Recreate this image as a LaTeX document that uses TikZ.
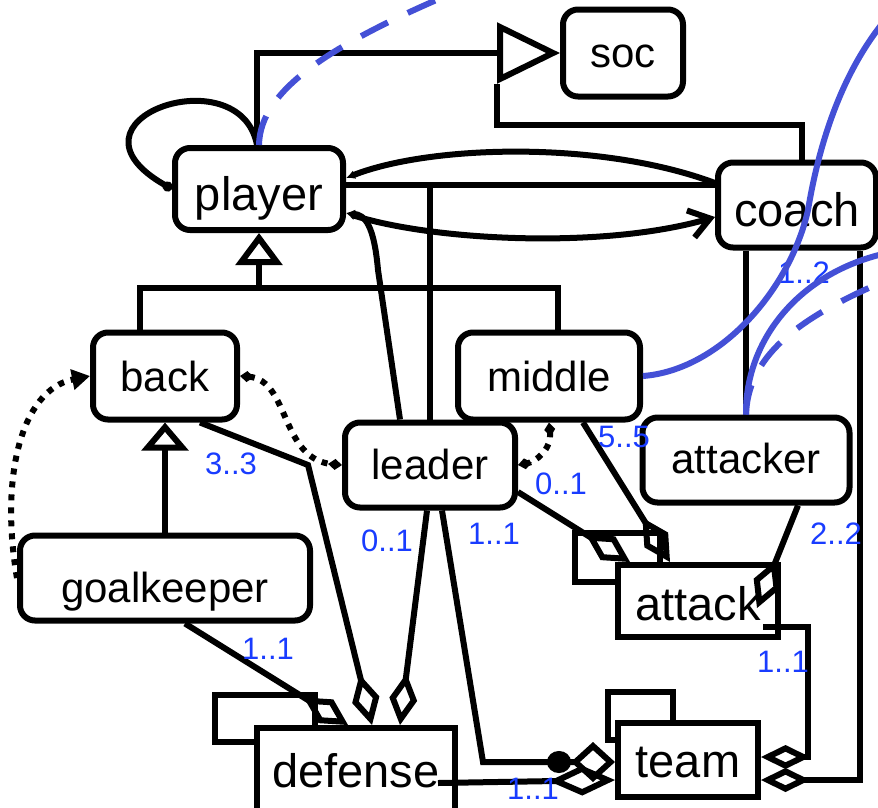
\documentclass[tikz,border=0pt]{standalone}
\usepackage{fontspec}
\setmainfont{Liberation Sans}
\usetikzlibrary{arrows.meta,positioning}
\definecolor{multblue}{RGB}{25,60,255}
\definecolor{linkblue}{RGB}{68,80,214}
\tikzset{
    cls/.style={draw, line width=6pt, rounded corners=15pt, fill=white, inner sep=0pt, text height=30pt, text depth=0pt, font=\fontsize{42}{48}\selectfont},
    coll/.style={draw, line width=6pt, fill=white, inner sep=0pt, text height=34pt, text depth=0pt, font=\fontsize{47}{52}\selectfont},
    big/.style={font=\fontsize{47}{52}\selectfont},
    tabbox/.style={draw, line width=6pt, fill=white, inner sep=0pt},
    assoc/.style={draw, line width=6pt},
    gen/.style={assoc, -{Triangle[open, #1]}},
    agg/.style={assoc, -{Diamond[open, length=52pt, width=28pt]}},
    dep/.style={draw, line width=6pt, dash pattern=on 6pt off 7pt},
    link/.style={draw=linkblue, line width=6pt},
    mult/.style={text=multblue, inner sep=0pt, font=\fontsize{31}{36}\selectfont}
}

\begin{document}
\begin{tikzpicture}[x=1pt, y=-1pt]
    \useasboundingbox (0,0) rectangle (878,807);
    % Nodes
    \node[tabbox, minimum width=100pt, minimum height=47pt] (deftab) at (265,718) {};
    \node[tabbox, minimum width=85pt, minimum height=49pt] (atttab) at (617,557) {};
    \node[tabbox, minimum width=65pt, minimum height=48pt] (teamtab) at (640,716) {};
    \node[cls, big, minimum width=168pt, minimum height=82pt, text height=42pt] (player) at (259,189) {player};
    \node[cls, minimum width=120pt, minimum height=87pt, text height=29pt] (soc) at (623,53) {soc};
    \node[cls, big, minimum width=158pt, minimum height=85pt, text height=43pt] (coach) at (797,205) {coach};
    \node[cls, minimum width=144pt, minimum height=87pt, text height=31pt] (back) at (165,376) {back};
    \node[cls, minimum width=182pt, minimum height=87pt, text height=31pt] (middle) at (549,376) {middle};
    \node[cls, minimum width=170pt, minimum height=85pt, text height=29pt] (leader) at (430,465) {leader};
    \node[cls, minimum width=207pt, minimum height=85pt, text height=27pt] (attacker) at (746,460) {attacker};
    \node[cls, minimum width=290pt, minimum height=85pt, text height=49pt] (goalkeeper) at (165,578) {goalkeeper};
    \node[coll, minimum width=198pt, minimum height=84pt] (defense) at (356,770) {defense};
    \node[coll, minimum width=160pt, minimum height=72pt, text height=38pt] (attack) at (698,601) {attack};
    \node[coll, minimum width=140pt, minimum height=74pt] (team) at (688,760) {team};

    % generalisations
    \coordinate (socbase) at ([xshift=-63pt, yshift=-31pt]soc.west);
    \draw[gen={length=63pt, width=60pt}] ([xshift=-2pt]player.north) |- (soc.west);
    \draw[assoc] ([xshift=5pt]coach.north) |- ([yshift=-41pt]socbase) -- (socbase);
    \draw[gen={length=32pt, width=46pt}] ([xshift=-25pt]back.north) |- ([yshift=-55pt]player.south) -- (player.south);
    \draw[assoc] ([xshift=9pt]middle.north) |- ([yshift=-55pt]player.south);
    \draw[gen={length=28pt, width=46pt}] (goalkeeper.north) -- (back.south);

    % player and coach
    \coordinate (pc) at ([yshift=4pt]player.east);
    \draw[assoc, {Latex[length=9pt, width=9pt]}-] ([yshift=11pt]player.east) .. controls (430,145) and (600,140) .. ([yshift=22pt]coach.west);
    \draw[assoc, {Latex[length=9pt, width=9pt]}-{Straight Barb[length=20pt, width=28pt]}] ([yshift=-24pt]player.east) .. controls (430,240) and (600,250) .. ([yshift=-12pt]coach.west);
    \draw[assoc] (pc) -- ([yshift=20pt]coach.west);
    \draw[assoc] (leader.north) -- (leader.north |- pc);
    \draw[assoc, -{Latex[length=9pt, width=9pt]}] ([xshift=-30pt]leader.north) -- (378,270) .. controls (374,225) and (365,215) .. ([yshift=-24pt]player.east);
    \draw[assoc, -{Circle[length=10pt]}] ([xshift=-2pt]player.north) .. controls (240,55) and (50,120) .. (player.west);
    \draw[assoc] (coach.south -| attacker.north) -- (attacker.north);

    % dependencies
    \draw[dep, {Diamond[length=14pt, width=11pt]}-{Diamond[length=14pt, width=11pt]}] (back.east) .. controls (290,380) and (280,460) .. (leader.west);
    \draw[dep, {Diamond[length=14pt, width=11pt]}-{Diamond[length=14pt, width=11pt]}] (middle.south) .. controls (552,450) and (535,462) .. (leader.east);
    \draw[dep, -{Triangle[length=18pt, width=20pt]}] (goalkeeper.west) .. controls (0,480) and (20,390) .. (back.west);

    % aggregations
    \draw[agg] ([xshift=35pt]back.south) -- (308,465) -- ([xshift=16pt]defense.north);
    \draw[agg] ([xshift=-3pt]leader.south) -- ([xshift=44pt]defense.north);
    \draw[agg] ([xshift=20pt]goalkeeper.south) -- ([xshift=-8pt]defense.north);
    \draw[agg] ([yshift=-27pt]leader.east) -- ([xshift=-68pt]attack.north);
    \draw[agg] ([xshift=34pt]middle.south) -- ([xshift=-28pt]attack.north);
    \draw[agg] ([xshift=52pt]attacker.south) -- ([xshift=59pt, yshift=-7pt]attack.center);
    \draw[assoc, -{Circle[length=24pt, width=22pt] Diamond[open, length=44pt, width=40pt]}] ([xshift=12pt]leader.south) -- (483,762) -- ([yshift=-2pt]team.west);
    \draw[assoc, -{Diamond[open, length=66pt, width=30pt]}] ([xshift=-20pt, yshift=-13pt]defense.east) -- ([yshift=-20pt]team.west);
    \draw[assoc, -{Diamond[open, length=49pt, width=24pt]}] ([xshift=-18pt, yshift=-26pt]attack.east) -| (808,757) -- ([yshift=3pt]team.east);
    \draw[assoc, -{Diamond[open, length=49pt, width=24pt]}] ([xshift=63pt]coach.south) |- ([yshift=-20pt]team.east);

    % multiplicities
    \node[mult] (m33) at (231,464) {3..3};
    \node[mult] (m01a) at (387,541) {0..1};
    \node[mult] (m11a) at (494,534) {1..1};
    \node[mult] (m01b) at (561,484) {0..1};
    \node[mult] (m55) at (624,437) {5..5};
    \node[mult] (m22) at (836,534) {2..2};
    \node[mult] (m12) at (804,273) {1..2};
    \node[mult] (m11b) at (268,649) {1..1};
    \node[mult] (m11c) at (783,662) {1..1};
    \node[mult] (m11d) at (533,789) {1..1};

    % links
    \coordinate (offtop) at (455,-8);
    \coordinate (offright1) at (892,12);
    \coordinate (offright2) at (892,252);
    \coordinate (offright3) at (892,278);
    \draw[link, dash pattern=on 30pt off 22pt] (player.north) .. controls (260,90) and (330,45) .. (offtop);
    \draw[link] (middle.east) .. controls (720,370) and (790,290) .. (808,210) .. controls (818,150) and (840,70) .. (offright1);
    \draw[link] (attacker.north) .. controls (745,340) and (800,270) .. (offright2);
    \draw[link, dash pattern=on 30pt off 22pt] (attacker.north) .. controls (748,360) and (790,320) .. (offright3);
\end{tikzpicture}
\end{document}
